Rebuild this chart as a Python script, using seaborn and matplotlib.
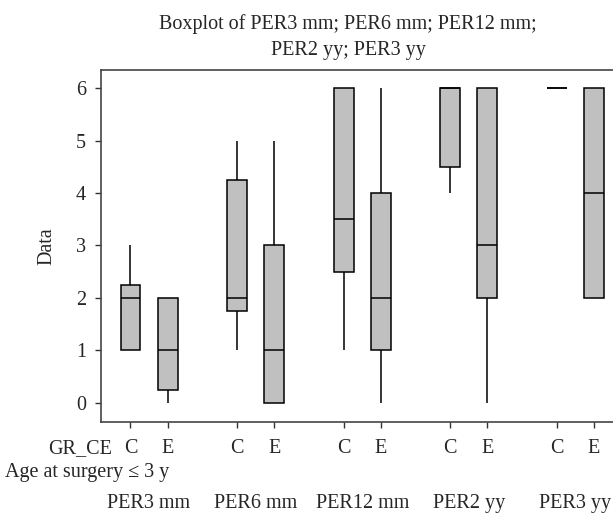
import matplotlib
matplotlib.use("Agg")
import matplotlib.pyplot as plt
import matplotlib.transforms as mtransforms
import seaborn as sns
import pandas as pd

# ---- data (five-number summaries: min, Q1, median, Q3, max)
periods = ["PER3 mm", "PER6 mm", "PER12 mm", "PER2 yy", "PER3 yy"]
groups = ["C", "E"]
per3mm_C = [1, 1, 2, 2.25, 3]
per3mm_E = [0, 0.25, 1, 2, 2]
per6mm_C = [1, 1.75, 2, 4.25, 5]
per6mm_E = [0, 0, 1, 3, 5]
per12mm_C = [1, 2.5, 3.5, 6, 6]
per12mm_E = [0, 1, 2, 4, 6]
per2yy_C = [4, 4.5, 6, 6, 6]
per2yy_E = [0, 2, 3, 6, 6]
per3yy_C = [6, 6, 6, 6, 6]
per3yy_E = [2, 2, 4, 6, 6]
yticks = [0, 1, 2, 3, 4, 5, 6]
title = "Boxplot of PER3 mm; PER6 mm; PER12 mm;\nPER2 yy; PER3 yy"

series = [per3mm_C, per3mm_E, per6mm_C, per6mm_E, per12mm_C, per12mm_E,
          per2yy_C, per2yy_E, per3yy_C, per3yy_E]

# ---- layout
group_step = 2.88
rows = []
tick_pos, tick_lab = [], []
for i, vals in enumerate(series):
    g, k = divmod(i, 2)
    pos = g * group_step + k
    tick_pos.append(pos)
    tick_lab.append(groups[k])
    for v in vals:
        rows.append({"pos": pos, "value": v})
df = pd.DataFrame(rows)

sns.set_style("white")
plt.rcParams["font.family"] = ["Liberation Serif", "DejaVu Serif"]
FS = 14.5

W, H = 613, 514
fig = plt.figure(figsize=(W / 100, H / 100), dpi=100)
ax = fig.add_axes([100.7 / W, 1 - 422 / H, 523 / W, (422 - 70) / H])

sns.boxplot(data=df, x="pos", y="value", native_scale=True, width=0.54,
            color="#c0c0c0", saturation=1, linecolor="black", linewidth=1.1,
            showcaps=False, fliersize=0, whis=1.5, ax=ax)

ax.set_xlim(-0.805, 4 * group_step + 1 + 0.805)
ax.set_ylim(-0.37, 6.35)
ax.set_yticks(yticks)
ax.set_yticklabels([str(t) for t in yticks], fontsize=FS)
ax.set_xticks(tick_pos)
ax.set_xticklabels(tick_lab, fontsize=FS)
ax.set_xlabel("")
ax.set_ylabel("Data", fontsize=FS, labelpad=14)
ax.tick_params(axis="both", direction="out", length=4.5, width=1, color="#333333",
               bottom=True, left=True)
ax.tick_params(axis="x", pad=8)
ax.tick_params(axis="y", pad=6)
for s in ax.spines.values():
    s.set_color("#444444")
    s.set_linewidth(1.2)

fig.text(348 / W, 1 - 55 / H, title, ha="center", va="baseline", fontsize=FS,
         linespacing=1.52, multialignment="center")

fig.text(112 / W, 1 - 453 / H, "GR_CE", ha="right", va="baseline", fontsize=FS)
fig.text(5 / W, 1 - 477 / H, "Age at surgery ≤ 3 y", ha="left", va="baseline", fontsize=FS)
trans = mtransforms.blended_transform_factory(ax.transData, fig.transFigure)
for g, name in enumerate(periods):
    ax.text(g * group_step + 0.5, 1 - 508 / H, name, transform=trans,
            ha="center", va="baseline", fontsize=FS, clip_on=False)

fig.savefig("out.png", dpi=100)
